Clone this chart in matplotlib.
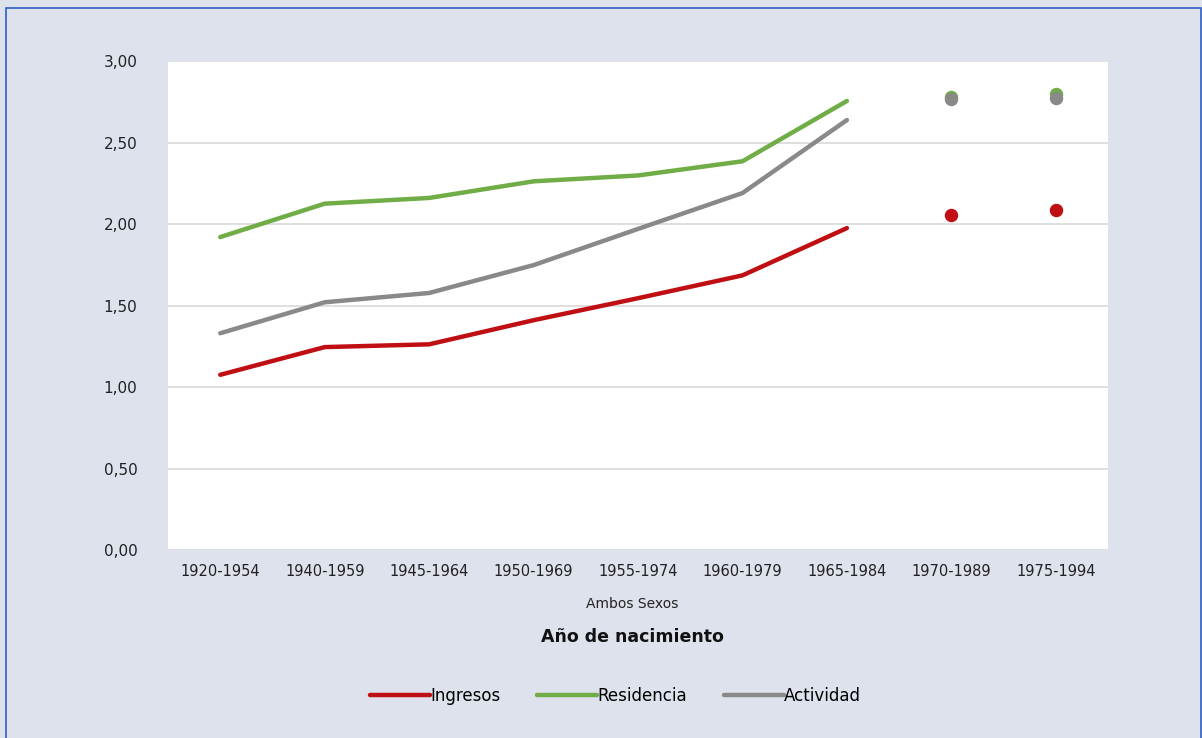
import matplotlib.pyplot as plt
from matplotlib.patches import Rectangle
from matplotlib.ticker import FuncFormatter

periodos = ["1920-1954", "1940-1959", "1945-1964", "1950-1969", "1955-1974",
            "1960-1979", "1965-1984", "1970-1989", "1975-1994"]

# series con linea (primeros 7 periodos) y puntos sueltos (ultimos 2)
ingresos = [1.075, 1.245, 1.262, 1.41, 1.545, 1.685, 1.975]
residencia = [1.92, 2.125, 2.16, 2.262, 2.298, 2.385, 2.755]
actividad = [1.33, 1.52, 1.577, 1.748, 1.97, 2.19, 2.638]

ingresos_pts = [2.055, 2.085]
residencia_pts = [2.78, 2.795]
actividad_pts = [2.768, 2.772]

rojo = "#C00F12"
verde = "#70AD47"
gris = "#898989"
fondo = "#DEE2EC"

fig = plt.figure(figsize=(12.02, 7.38), dpi=100)
fig.patch.set_facecolor(fondo)
fig.patches.append(Rectangle((0.005, -0.01), 0.994, 0.999, transform=fig.transFigure,
                             fill=False, edgecolor="#2F5EC4", linewidth=1.2))

ax = fig.add_axes([0.1398, 0.2547, 0.782, 0.6626])
ax.set_facecolor("white")

x_line = list(range(len(ingresos)))
x_pts = list(range(len(ingresos), len(periodos)))

ax.plot(x_line, ingresos, color=rojo, lw=3.2, solid_capstyle="round", label="Ingresos")
ax.plot(x_line, residencia, color=verde, lw=3.2, solid_capstyle="round", label="Residencia")
ax.plot(x_line, actividad, color=gris, lw=3.2, solid_capstyle="round", label="Actividad")

ax.scatter(x_pts, ingresos_pts, color=rojo, s=75, zorder=3)
ax.scatter(x_pts, residencia_pts, color=verde, s=75, zorder=3)
ax.scatter(x_pts, actividad_pts, color=gris, s=75, zorder=4)

ax.set_xlim(-0.5, len(periodos) - 0.5)
ax.set_ylim(0, 3)
ax.set_yticks([0, 0.5, 1, 1.5, 2, 2.5, 3])
ax.yaxis.set_major_formatter(FuncFormatter(lambda v, p: f"{v:.2f}".replace(".", ",")))
ax.set_xticks(range(len(periodos)))
ax.set_xticklabels(periodos)
ax.tick_params(axis="both", length=0, labelsize=11, colors="#222222")
ax.tick_params(axis="y", pad=22)
ax.tick_params(axis="x", pad=10)
for lab in ax.get_xticklabels():
    lab.set_fontsize(10.5)

ax.grid(axis="y", color="#D9D9D9", lw=1.2)
ax.set_axisbelow(True)
for s in ax.spines.values():
    s.set_visible(False)

fig.text(0.526, 0.176, "Ambos Sexos", ha="center", fontsize=10, color="#222222")
fig.text(0.526, 0.130, "Año de nacimiento", ha="center", fontsize=12.5,
         fontweight="bold", color="#111111")

fig.legend(loc="center", bbox_to_anchor=(0.512, 0.057), ncol=3, frameon=False,
           fontsize=12, handlelength=3.6, handletextpad=0.0, columnspacing=2.2)

fig.savefig("out.png", dpi=100, facecolor=fondo)
